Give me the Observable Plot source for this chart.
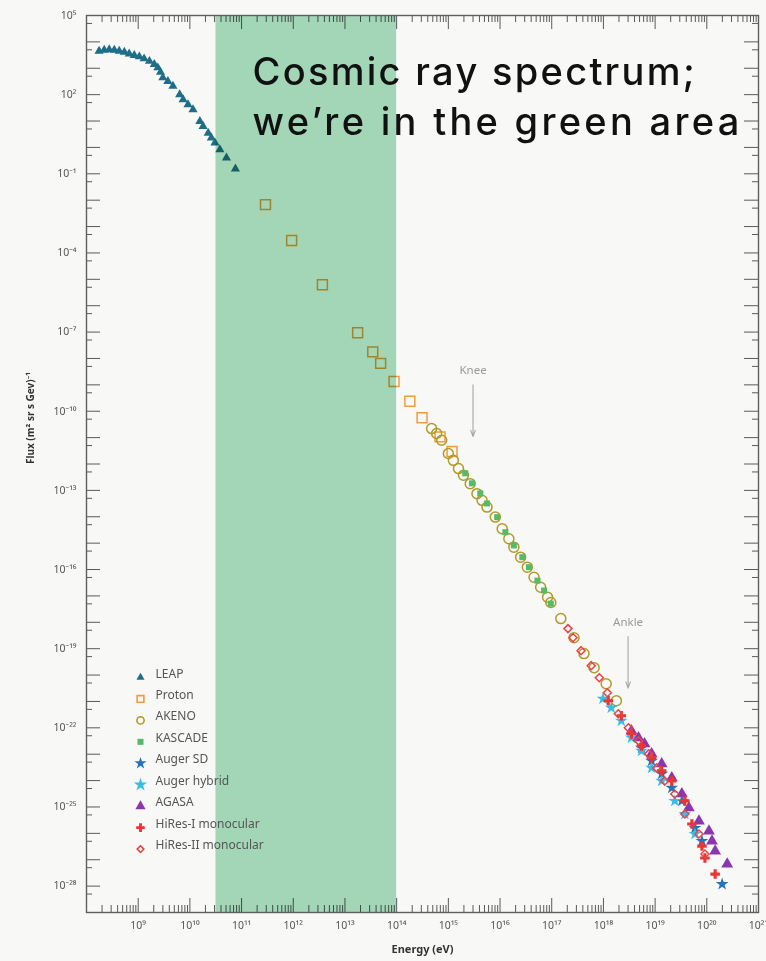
<!DOCTYPE html>
<html><head><meta charset="utf-8">
<script src="https://cdn.jsdelivr.net/npm/d3@7"></script>
<script src="https://cdn.jsdelivr.net/npm/@observablehq/plot@0.6"></script>
<style>
html,body{margin:0;padding:0;background:#f8f8f7;}
#chart{width:766px;height:961px;}
</style></head><body><div id="chart"></div>
<script>
// ---------- data (energy in eV, flux in (m² sr s GeV)⁻¹) ----------
const seriesNames = ["LEAP","Proton","AKENO","KASCADE","Auger SD","Auger hybrid","AGASA","HiRes-I monocular","HiRes-II monocular"];

const leap = [[1.75e8,4.5e3],[2.2e8,4.9e3],[2.75e8,5.1e3],[3.45e8,4.9e3],[4.3e8,4.5e3],[5.4e8,4.1e3],[6.7e8,3.5e3],[8.4e8,3.1e3],[1.05e9,2.75e3],[1.3e9,2.3e3],[1.65e9,1.85e3],[2.05e9,1.4e3],[2.4e9,1.05e3],[2.7e9,7.1e2],[3.0e9,4.4e2],[3.75e9,3.2e2],[4.7e9,2.1e2],[6.35e9,1.0e2],[7.4e9,65],[9.2e9,42],[1.15e10,27],[1.56e10,9.8],[1.8e10,6.3],[2.26e10,3.5],[2.6e10,2.3],[3.05e10,1.5],[3.8e10,0.83],[5.1e10,0.40],[7.6e10,0.155]];
const proton = [[2.9e11,6.8e-3],[9.3e11,2.95e-4],[3.66e12,6.2e-6],[1.76e13,9.5e-8],[3.45e13,1.78e-8],[4.9e13,6.5e-9],[8.9e13,1.35e-9],[1.8e14,2.4e-10],[3.1e14,5.7e-11],[6.9e14,1.07e-11],[1.18e15,3.0e-12]];
const akeno = [[4.75e14,2.2e-11],[5.94e14,1.43e-11],[7.43e14,7.96e-12],[1.0e15,2.49e-12],[1.25e15,1.38e-12],[1.57e15,6.7e-13],[1.96e15,3.73e-13],[2.65e15,1.8e-13],[3.58e15,7.5e-14],[4.48e15,4.2e-14],[5.6e15,2.33e-14],[8.1e15,9.7e-15],[1.1e16,3.52e-15],[1.48e16,1.47e-15],[1.85e16,7.06e-16],[2.5e16,2.94e-16],[3.37e16,1.23e-16],[4.54e16,5.1e-17],[6.1e16,2.13e-17],[8.3e16,8.9e-18],[9.6e16,5.6e-18],[1.5e17,1.38e-18],[2.7e17,2.6e-19],[4.2e17,6.5e-20],[6.6e17,1.9e-20],[1.13e18,4.7e-21],[1.78e18,1.06e-21]];
const kascade = [[2.12e15,4.45e-13],[2.86e15,1.85e-13],[4.15e15,7.7e-14],[5.6e15,3.2e-14],[8.8e15,9.7e-15],[1.27e16,2.6e-15],[1.85e16,8.2e-16],[2.7e16,2.94e-16],[3.62e16,1.23e-16],[5.3e16,3.8e-17],[7.1e16,1.6e-17],[9.6e16,5.1e-18]];
const augerSD = [[5.46e18,1.74e-23],[8.55e18,5.6e-24],[1.34e19,1.8e-24],[2.1e19,5.3e-25],[3.29e19,1.69e-25],[5.89e19,1.6e-26],[8.06e19,5.1e-27],[1.98e20,1.19e-28]];
const augerHybrid = [[9.8e17,1.26e-21],[1.42e18,5.75e-22],[2.22e18,1.85e-22],[3.48e18,4.18e-23],[5.46e18,1.34e-23],[8.55e18,3.03e-24],[1.34e19,9.7e-25],[2.4e19,1.69e-25],[3.76e19,5.4e-26],[5.89e19,9.4e-27]];
const agasa = [[3.48e18,7.7e-23],[4.77e18,4.18e-23],[6.24e18,2.47e-23],[8.55e18,1.03e-23],[1.34e19,4.3e-24],[2.1e19,1.26e-24],[3.29e19,3.12e-25],[4.5e19,9.2e-26],[7.05e19,2.94e-26],[1.1e20,1.23e-26],[1.26e20,5.1e-27],[1.45e20,2.13e-27],[2.48e20,6.9e-28]];
const hires1 = [[1.24e18,1.06e-21],[2.22e18,2.86e-22],[3.48e18,5.9e-23],[5.46e18,2.07e-23],[8.55e18,7.3e-24],[1.34e19,2.33e-24],[2.1e19,9.7e-25],[3.76e19,1.69e-25],[5.15e19,2.26e-26],[8.06e19,3.3e-27],[9.2e19,1.16e-27],[1.45e20,2.86e-28]];
const hires2 = [[2.06e17,5.77e-19],[2.58e17,2.6e-19],[3.69e17,8.4e-20],[5.8e17,2.27e-20],[8.3e17,7.9e-21],[1.19e18,2.14e-21],[1.94e18,3.4e-22],[3.04e18,1.0e-22],[4.77e18,3.2e-23],[7.5e18,1.03e-23],[1.07e19,3.03e-24],[1.53e19,9.7e-25],[2.4e19,3.12e-25],[3.76e19,5.4e-26],[7.05e19,9.4e-27],[9.2e19,1.64e-27]];

const seriesData = [leap, proton, akeno, kascade, augerSD, augerHybrid, agasa, hires1, hires2];

const xTickLabels = [1e9,1e10,1e11,1e12,1e13,1e14,1e15,1e16,1e17,1e18,1e19,1e20,1e21];
const yTickLabels = [1e5,1e2,1e-1,1e-4,1e-7,1e-10,1e-13,1e-16,1e-19,1e-22,1e-25,1e-28];

const greenBand = [{from: 3.2e10, to: 1e14}];
const annotations = [
  {label: "Knee",  energy: 3e15, textFlux: 3.6e-9, fromFlux: 1.0e-9,  toFlux: 1.1e-11},
  {label: "Ankle", energy: 3e18, textFlux: 1.0e-18, fromFlux: 2.9e-19, toFlux: 3.2e-21}
];
const titleText = "Cosmic ray spectrum;\nwe’re in the green area";

// ---------- styles ----------
const styles = {
  "LEAP":               {symbol: "triangle", color: "#1f6e88", filled: true,  r: 3.4, lr: 3.0},
  "Proton":             {symbol: "square",   color: "#f39a3e", filled: false, r: 5.6, lr: 3.8},
  "AKENO":              {symbol: "circle",   color: "#b09a28", filled: false, r: 5.0, lr: 3.6},
  "KASCADE":            {symbol: "square",   color: "#55bb66", filled: true,  r: 3.4, lr: 3.4},
  "Auger SD":           {symbol: "star",     color: "#2373bb", filled: true,  r: 4.0, lr: 3.8},
  "Auger hybrid":       {symbol: "star",     color: "#38bde6", filled: true,  r: 4.0, lr: 4.2},
  "AGASA":              {symbol: "triangle", color: "#8b36ad", filled: true,  r: 4.4, lr: 3.8},
  "HiRes-I monocular":  {symbol: "cross",    color: "#ea3535", filled: true,  r: 4.0, lr: 3.6},
  "HiRes-II monocular": {symbol: "diamond2", color: "#e84545", filled: false, r: 3.6, lr: 3.0}
};

const W = 766, H = 961;
const mL = 86, mR = 8, mT = 15, mB = 49;
const frameW = W - mL - mR, frameH = H - mT - mB;

const supMap = {"-":"⁻","0":"⁰","1":"¹","2":"²","3":"³","4":"⁴","5":"⁵","6":"⁶","7":"⁷","8":"⁸","9":"⁹"};
const pow10 = v => "10" + String(Math.round(Math.log10(v))).split("").map(c => supMap[c]).join("");

// tick positions (axis decoration)
const xDecades = [], xMinor = [];
for (let k = 8; k <= 21; k++) { xDecades.push(Math.pow(10, k)); if (k < 21) for (let m = 2; m <= 9; m++) xMinor.push(m * Math.pow(10, k)); }
const yDecades = [], yHalf = [];
for (let k = -29; k <= 5; k++) { yDecades.push(Math.pow(10, k)); if (k < 5) yHalf.push(5 * Math.pow(10, k)); }

const tickColor = "#5a5a5a";
const marks = [];

// ticks, inward on all four sides
marks.push(Plot.ruleX(xDecades, {x: d => d, insetTop: frameH - 14, stroke: tickColor, strokeWidth: 1}));
marks.push(Plot.ruleX(xMinor,   {x: d => d, insetTop: frameH - 7,  stroke: tickColor, strokeWidth: 1}));
marks.push(Plot.ruleX(xDecades, {x: d => d, insetBottom: frameH - 14, stroke: tickColor, strokeWidth: 1}));
marks.push(Plot.ruleX(xMinor,   {x: d => d, insetBottom: frameH - 7,  stroke: tickColor, strokeWidth: 1}));
marks.push(Plot.ruleY(yDecades, {y: d => d, insetRight: frameW - 14, stroke: tickColor, strokeWidth: 1}));
marks.push(Plot.ruleY(yHalf,    {y: d => d, insetRight: frameW - 6,  stroke: tickColor, strokeWidth: 1}));
marks.push(Plot.ruleY(yDecades, {y: d => d, insetLeft: frameW - 14, stroke: tickColor, strokeWidth: 1}));
marks.push(Plot.ruleY(yHalf,    {y: d => d, insetLeft: frameW - 6,  stroke: tickColor, strokeWidth: 1}));

// data
seriesNames.forEach((name, i) => {
  const s = styles[name];
  marks.push(Plot.dot(seriesData[i], {
    x: d => d[0], y: d => d[1], symbol: s.symbol, r: s.r,
    fill: s.filled ? s.color : "none",
    stroke: s.filled ? "none" : s.color,
    strokeWidth: s.filled ? 0 : 1.5
  }));
});

// green band (multiplied over everything beneath)
marks.push(Plot.rect(greenBand, {x1: "from", x2: "to", fill: "#a7dcbd", mixBlendMode: "multiply"}));

// annotations
marks.push(Plot.arrow(annotations, {x1: "energy", x2: "energy", y1: "fromFlux", y2: "toFlux", stroke: "#a8a8a8", strokeWidth: 1.1, headLength: 9, headAngle: 40}));
marks.push(Plot.text(annotations, {x: "energy", y: "textFlux", text: "label", fill: "#9a9a9a", fontSize: 11.5}));

// legend
seriesNames.forEach((name, i) => {
  const s = styles[name];
  const dy = -235 + 21.45 * i;
  marks.push(Plot.dot([name], {frameAnchor: "bottom-left", dx: 54, dy, symbol: s.symbol, r: s.lr,
    fill: s.filled ? s.color : "none", stroke: s.filled ? "none" : s.color, strokeWidth: s.filled ? 0 : 1.6}));
  marks.push(Plot.text([name], {frameAnchor: "bottom-left", dx: 69, dy, text: d => d, textAnchor: "start", fontSize: 12, fill: "#555"}));
});

// frame
marks.push(Plot.frame({stroke: "#5f5f5f", strokeWidth: 1.4}));

// axes (labels only)
marks.push(Plot.axisX({ticks: xTickLabels, tickSize: 0, tickPadding: 9, tickFormat: pow10, fontSize: 10.5, fill: "#555", label: null}));
marks.push(Plot.axisY({ticks: yTickLabels, tickSize: 0, tickPadding: 10, tickFormat: pow10, fontSize: 10.5, fill: "#555", label: null}));

// axis titles
marks.push(Plot.text(["Energy (eV)"], {frameAnchor: "bottom", dy: 40, text: d => d, fontWeight: "bold", fontSize: 11, fill: "#333"}));
marks.push(Plot.text(["Flux (m² sr s Gev)⁻¹"], {frameAnchor: "left", dx: -56, rotate: -90, text: d => d, fontWeight: "bold", fontSize: 10, fill: "#333"}));

// title overlay
marks.push(Plot.text([titleText], {frameAnchor: "top-left", dx: 166, dy: 34, text: d => d, textAnchor: "start", lineAnchor: "top", fontSize: 38, fontWeight: 500, lineHeight: 1.32, fill: "#111", fontFamily: "Inter, 'DejaVu Sans', sans-serif"}));

const chart = Plot.plot({
  width: W, height: H,
  marginLeft: mL, marginRight: mR, marginTop: mT, marginBottom: mB,
  x: {type: "log", domain: [1e8, 1e21], axis: null},
  y: {type: "log", domain: [1e-29, 1e5], axis: null},
  style: {fontFamily: "'Noto Sans', 'Open Sans', sans-serif", background: "#f8f8f7", overflow: "visible"},
  marks
});

// widen title spacing to imitate the original wide geometric face
chart.querySelectorAll("text").forEach(t => {
  if (t.textContent.includes("Cosmic")) {
    const spans = t.querySelectorAll("tspan");
    if (spans.length >= 2) {
      spans[0].setAttribute("letter-spacing", "2.3");
      spans[1].setAttribute("letter-spacing", "3.3");
    } else {
      t.setAttribute("letter-spacing", "2.6");
    }
  }
});
document.getElementById("chart").appendChild(chart);
</script>
</body></html>
